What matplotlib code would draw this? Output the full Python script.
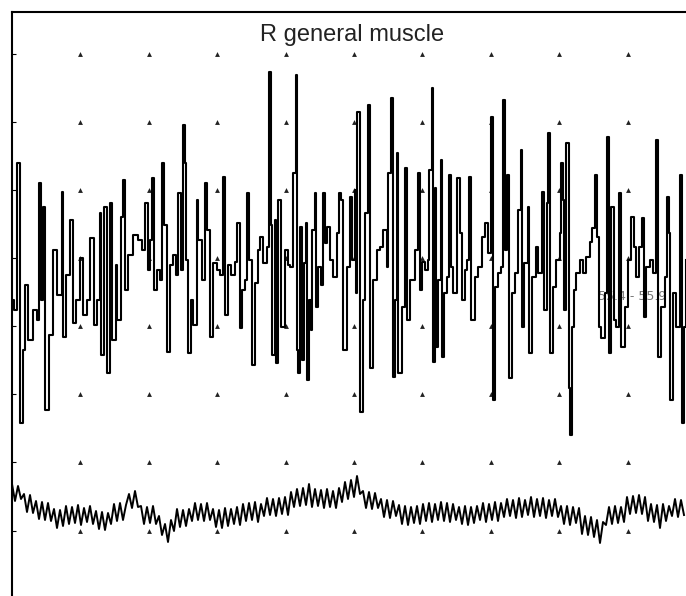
import numpy as np
import matplotlib
matplotlib.use("Agg")
import matplotlib.pyplot as plt

# EMG trace (top): sample time (ms) and amplitude (uV)
emg_t = [0, 2, 5, 8, 11, 13, 16, 21, 25, 27,
         29, 31, 33, 37, 41, 45, 50, 51, 54, 58,
         61, 64, 68, 71, 75, 78, 82, 85, 88, 89,
         92, 95, 98, 100, 104, 105, 109, 111, 113, 116,
         121, 126, 130, 133, 136, 138, 140, 142, 145, 148,
         150, 152, 155, 158, 161, 164, 166, 169, 171, 173,
         174, 176, 179, 181, 185, 186, 190, 193, 195, 198,
         201, 205, 208, 211, 213, 216, 219, 223, 225, 228,
         230, 233, 235, 237, 240, 243, 246, 248, 251, 255,
         257, 259, 260, 263, 264, 266, 269, 273, 276, 278,
         281, 284, 285, 286, 288, 290, 292, 294, 295, 297,
         299, 300, 303, 304, 306, 309, 311, 313, 315, 318,
         321, 325, 327, 329, 331, 335, 338, 340, 343, 344,
         345, 348, 351, 353, 356, 358, 361, 365, 368, 371,
         375, 376, 379, 381, 383, 385, 386, 390, 393, 395,
         398, 403, 406, 408, 410, 413, 416, 417, 420, 421,
         423, 424, 426, 429, 430, 432, 435, 437, 439, 441,
         445, 448, 450, 453, 455, 457, 459, 463, 466, 470,
         473, 476, 479, 481, 483, 486, 489, 491, 493, 495,
         497, 500, 503, 506, 509, 510, 512, 516, 517, 520,
         524, 526, 530, 532, 535, 536, 538, 541, 544, 548,
         549, 551, 552, 554, 557, 558, 560, 562, 564, 568,
         571, 574, 578, 580, 583, 585, 587, 589, 593, 595,
         597, 599, 602, 604, 607, 609, 613, 616, 619, 622,
         624, 627, 630, 632, 634, 638, 641, 644, 646, 649,
         653, 655, 657, 658, 661, 664, 668, 670, 672, 674]
emg_uv = [-42, -52, 95, -165, -92, -27, -82, -52, -62, 75,
          -42, 51, -152, -77, 8, -37, 66, -79, -17, 38,
          -65, -42, 0, -57, -42, 20, -67, -42, 45, -97,
          51, -115, 55, -82, -7, -62, 41, 78, -32, 3,
          23, 18, 8, 55, -12, 18, 80, -32, -12, -22,
          95, 33, -94, -7, 3, -17, 65, -12, 133, 95,
          -2, -95, -42, -67, 58, 18, -22, 75, 28, -79,
          -5, -12, -17, 81, -57, -7, -17, -4, 35, -70,
          -32, -22, 65, -2, -107, -25, 8, 21, -5, 11,
          186, 33, -97, 38, -105, 58, -69, 8, -7, -9,
          85, 183, -92, -115, 31, -102, -5, 35, -122, -42,
          -72, 28, 65, -49, -9, -27, 65, 15, 31, -2,
          -19, 25, 65, 58, -92, -9, 61, -2, 68, -35,
          146, -154, -42, 45, 153, -110, -22, 8, 11, 28,
          -9, 85, 160, -119, -42, 105, -115, -49, 90, -62,
          -22, 8, 85, -32, -4, -12, -2, 88, 170, -104,
          70, -89, -22, 98, -99, -35, -19, 83, -9, -35,
          80, 25, -42, -12, -2, 81, -62, -19, -9, 21,
          35, 5, 141, -142, -29, -15, -9, 158, 8, 83,
          -120, -35, -15, 48, 108, -69, -5, 51, -95, -19,
          11, -15, 66, -52, 55, 125, -95, -29, -2, 25,
          95, 58, -52, 115, -130, -177, -69, -32, -15, -2,
          -15, 1, 16, 30, 83, 21, -69, -80, -35, 121,
          -95, 51, -62, -69, 65, -89, -49, -2, 41, 11,
          -19, 11, 40, -59, -9, -2, -15, 118, -99, -49,
          -19, 61, 25, -142, -35, -69, 83, -165, -69, -2]

# lower trace, one sample every 3 ms
low_step = 3
low_uv = [-226, -243, -228, -241, -236, -254, -237, -255, -243, -261,
          -244, -262, -245, -263, -251, -270, -252, -268, -248, -266,
          -249, -265, -247, -267, -250, -264, -248, -266, -253, -271,
          -254, -272, -255, -266, -246, -263, -245, -262, -247, -236,
          -250, -233, -249, -248, -266, -249, -265, -248, -266, -258,
          -277, -266, -284, -262, -273, -251, -269, -252, -268, -251,
          -263, -245, -262, -246, -263, -245, -262, -251, -269, -252,
          -270, -250, -268, -251, -266, -249, -267, -246, -263, -245,
          -262, -244, -264, -246, -258, -240, -257, -241, -258, -240,
          -256, -239, -257, -234, -249, -231, -248, -230, -247, -226,
          -249, -231, -248, -232, -250, -231, -249, -233, -250, -230,
          -244, -224, -241, -222, -239, -218, -236, -233, -250, -234,
          -251, -235, -250, -241, -259, -242, -260, -243, -258, -247,
          -266, -248, -267, -249, -265, -248, -266, -246, -263, -245,
          -264, -246, -262, -244, -263, -245, -264, -246, -262, -249,
          -266, -248, -267, -249, -265, -248, -262, -245, -264, -246,
          -262, -244, -263, -245, -259, -241, -258, -242, -260, -240,
          -259, -242, -257, -239, -259, -241, -258, -240, -260, -242,
          -258, -241, -259, -248, -266, -248, -267, -249, -265, -250,
          -276, -258, -277, -259, -279, -262, -285, -264, -267, -249,
          -266, -248, -265, -249, -264, -239, -256, -238, -255, -237,
          -256, -239, -263, -246, -264, -247, -270, -246, -263, -248,
          -258, -241, -259, -242, -257]

grid_dx = 68.4
grid_dy = 68.14

fig = plt.figure(figsize=(6.86, 5.96), dpi=100)
ax = fig.add_axes([12 / 686, 0, 674 / 686, 584 / 596])

# dotted reference grid
gx = grid_dx * np.arange(1, 10)
gy = grid_dy * np.arange(-4, 4)
GX, GY = np.meshgrid(gx, gy)
ax.plot(GX.ravel(), GY.ravel(), ls="none", marker="^", ms=3.5, color="#222222", mew=0)

ax.text(586, -39, "55.4 - 55.9", fontsize=9, color="#777777", va="center", zorder=1)

ax.plot(emg_t, emg_uv, drawstyle="steps-post", color="black", lw=1.5, zorder=2)
low_t = np.arange(len(low_uv)) * low_step
ax.plot(low_t, low_uv, color="black", lw=1.4, zorder=2)

ax.text(340, 223, "R general muscle", fontsize=17, family="Liberation Sans",
        ha="center", va="center", color="#222222")

ax.set_xlim(0, 674)
ax.set_ylim(-338, 246)
ax.spines["right"].set_visible(False)
ax.spines["bottom"].set_visible(False)
ax.spines["left"].set_linewidth(1.5)
ax.spines["top"].set_linewidth(1.5)
ax.set_yticks(gy)
ax.set_xticks([])
ax.tick_params(axis="y", direction="in", length=3, labelleft=False)

fig.savefig("out.png", dpi=100)
